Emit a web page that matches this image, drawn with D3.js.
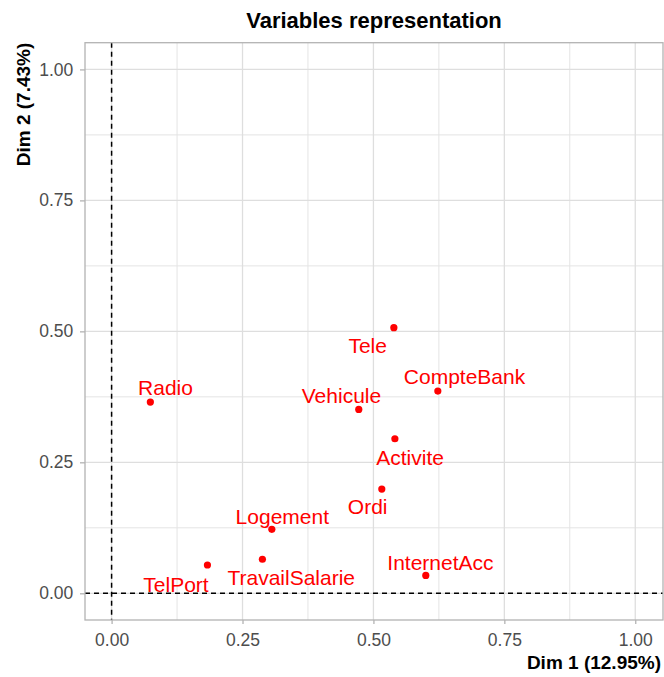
<!DOCTYPE html>
<html>
<head>
<meta charset="utf-8">
<script src="https://cdn.jsdelivr.net/npm/d3@7"></script>
<style>
  body { margin: 0; background: #fff; }
  svg { font-family: "Liberation Sans", Arial, sans-serif; }
</style>
</head>
<body>
<svg width="664" height="677"></svg>
<script>
// variable coordinates (Dim 1, Dim 2)
var names = ["Tele", "CompteBank", "Radio", "Vehicule", "Activite", "Ordi", "Logement", "TelPort", "TravailSalarie", "InternetAcc"];
var dim1 = [0.539, 0.623, 0.074, 0.472, 0.541, 0.516, 0.306, 0.183, 0.288, 0.600];
var dim2 = [0.507, 0.386, 0.365, 0.351, 0.295, 0.199, 0.122, 0.054, 0.065, 0.034];
var tickValues = [0, 0.25, 0.5, 0.75, 1];

// repelled label offsets (data units), like ggrepel put them
var repel = [[-0.050, -0.034], [0.051, 0.027], [0.029, 0.028], [-0.033, 0.027], [0.029, -0.035],
             [-0.027, -0.034], [0.020, 0.024], [-0.060, -0.038], [0.055, -0.034], [0.028, 0.024]];

(() => {
    var svg = d3.select("svg");
    var panel = { left: 85, right: 663, top: 42.7, bottom: 620 };

    var x = d3.scaleLinear().domain([-0.0508, 1.053]).range([panel.left, panel.right]);
    var y = d3.scaleLinear().domain([-0.051, 1.051]).range([panel.bottom, panel.top]);

    var minor = [0.125, 0.375, 0.625, 0.875];

    // grid
    var grid = svg.append("g");
    grid.selectAll(".vminor").data(minor).enter().append("line")
        .attr("x1", d => x(d)).attr("x2", d => x(d))
        .attr("y1", panel.top).attr("y2", panel.bottom)
        .attr("stroke", "#e4e4e4").attr("stroke-width", 1);
    grid.selectAll(".hminor").data(minor).enter().append("line")
        .attr("y1", d => y(d)).attr("y2", d => y(d))
        .attr("x1", panel.left).attr("x2", panel.right)
        .attr("stroke", "#e4e4e4").attr("stroke-width", 1);
    grid.selectAll(".vmajor").data(tickValues).enter().append("line")
        .attr("x1", d => x(d)).attr("x2", d => x(d))
        .attr("y1", panel.top).attr("y2", panel.bottom)
        .attr("stroke", "#dedede").attr("stroke-width", 1.3);
    grid.selectAll(".hmajor").data(tickValues).enter().append("line")
        .attr("y1", d => y(d)).attr("y2", d => y(d))
        .attr("x1", panel.left).attr("x2", panel.right)
        .attr("stroke", "#dedede").attr("stroke-width", 1.3);

    // dashed reference lines at 0
    svg.append("line")
        .attr("x1", panel.left).attr("x2", panel.right)
        .attr("y1", y(0)).attr("y2", y(0))
        .attr("stroke", "#000").attr("stroke-width", 1.5).attr("stroke-dasharray", "5,4");
    svg.append("line")
        .attr("x1", x(0)).attr("x2", x(0))
        .attr("y1", panel.top).attr("y2", panel.bottom)
        .attr("stroke", "#000").attr("stroke-width", 1.5).attr("stroke-dasharray", "5,4");

    // panel border
    svg.append("rect")
        .attr("x", panel.left).attr("y", panel.top)
        .attr("width", panel.right - panel.left).attr("height", panel.bottom - panel.top)
        .attr("fill", "none").attr("stroke", "#b3b3b3").attr("stroke-width", 1.3);

    // axes
    var fmt = d3.format(".2f");
    var xAxis = svg.append("g")
        .attr("transform", "translate(0," + panel.bottom + ")")
        .call(d3.axisBottom(x).tickValues(tickValues).tickFormat(fmt).tickSize(4).tickPadding(9.3));
    var yAxis = svg.append("g")
        .attr("transform", "translate(" + panel.left + ",0)")
        .call(d3.axisLeft(y).tickValues(tickValues).tickFormat(fmt).tickSize(5).tickPadding(6.7));
    [xAxis, yAxis].forEach(function (g) {
        g.select(".domain").remove();
        g.selectAll(".tick line").attr("stroke", "#b3b3b3").attr("stroke-width", 1.3);
        g.selectAll(".tick text").attr("fill", "#4d4d4d")
            .style("font-size", "17.5px").style("font-family", "Liberation Sans, Arial, sans-serif");
    });

    // points
    var data = names.map(function (n, i) {
        return { name: n, d1: dim1[i], d2: dim2[i], lx: dim1[i] + repel[i][0], ly: dim2[i] + repel[i][1] };
    });

    svg.selectAll(".pt").data(data).enter().append("circle")
        .attr("cx", d => x(d.d1))
        .attr("cy", d => y(d.d2))
        .attr("r", 3.6)
        .attr("fill", "#ff0000");

    svg.selectAll(".lbl").data(data).enter().append("text")
        .attr("x", d => x(d.lx))
        .attr("y", d => y(d.ly))
        .attr("dy", "0.36em")
        .attr("text-anchor", "middle")
        .attr("fill", "#ff0000")
        .style("font-size", "21px")
        .text(d => d.name);

    // titles
    svg.append("text")
        .attr("x", (panel.left + panel.right) / 2).attr("y", 27.7)
        .attr("text-anchor", "middle")
        .style("font-size", "22px").style("font-weight", "bold")
        .text("Variables representation");

    svg.append("text")
        .attr("x", 661).attr("y", 669)
        .attr("text-anchor", "end")
        .style("font-size", "19px").style("font-weight", "bold")
        .text("Dim 1 (12.95%)");

    svg.append("text")
        .attr("transform", "translate(30," + panel.top + ") rotate(-90)")
        .attr("text-anchor", "end")
        .style("font-size", "19px").style("font-weight", "bold")
        .text("Dim 2 (7.43%)");
})();
</script>
</body>
</html>
